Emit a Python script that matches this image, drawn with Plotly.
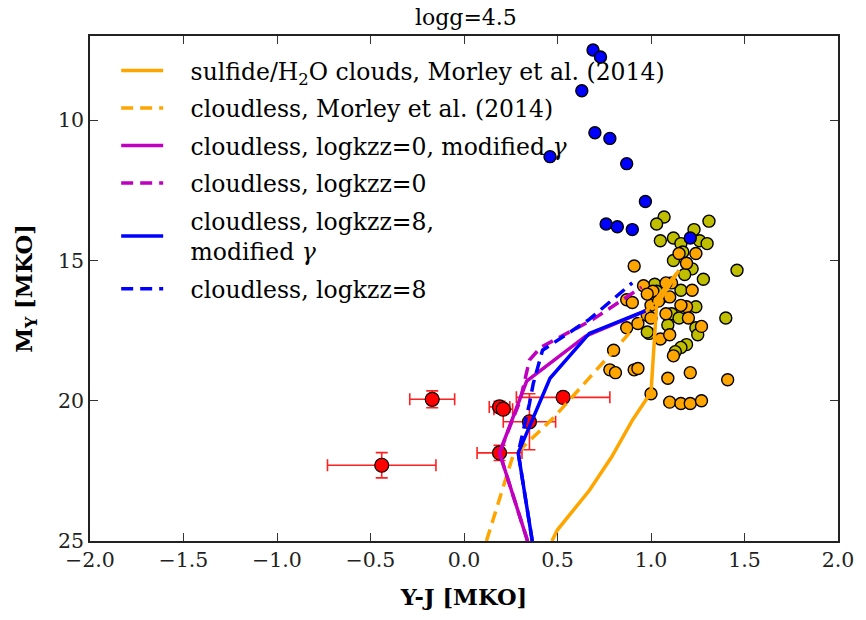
import plotly.graph_objects as go

# --- observed objects (Y-J colour vs absolute Y magnitude) ---
blue_yj = [0.69, 0.73, 0.63, 0.70, 0.78, 0.46, 0.87, 0.97, 0.76, 0.82, 0.90, 1.21]
blue_my = [7.5, 7.75, 8.95, 10.45, 10.65, 11.3, 11.55, 12.9, 13.7, 13.8, 13.9, 14.2]

olive_yj = [1.07, 1.03, 1.31, 1.23, 1.05, 1.12, 1.16, 1.26, 1.30, 1.17, 1.12, 1.22, 1.46,
            1.28, 1.18, 1.02, 1.16, 1.06, 1.24, 1.40, 1.11, 1.15, 1.24, 1.25, 0.99, 1.19,
            1.16, 1.13, 1.09, 0.98, 1.03]
olive_my = [13.45, 13.7, 13.6, 13.9, 14.3, 14.2, 14.4, 14.3, 14.4, 14.7, 15.0, 15.3, 15.35,
            15.67, 15.5, 15.85, 16.06, 16.3, 16.65, 17.05, 16.9, 17.05, 17.4, 17.65, 17.6, 18.0,
            18.1, 18.25, 17.3, 17.55, 16.1]

orange_yj = [0.91, 1.15, 1.24, 1.19, 1.11, 0.96, 1.08, 1.01, 1.10, 1.22, 1.19, 1.16, 1.00,
             0.87, 0.90, 0.98, 1.08, 0.98, 1.20, 1.27, 1.05, 1.10, 0.93, 1.00, 0.87, 1.12,
             0.80, 0.78, 0.81, 0.91, 0.93, 1.09, 1.21, 1.41, 1.00, 1.10, 1.16, 1.21, 1.27, 1.04]
orange_my = [15.2, 14.75, 14.75, 15.1, 15.8, 15.9, 15.8, 16.1, 16.3, 16.06, 16.65, 16.6, 16.6,
             16.4, 16.5, 16.2, 16.9, 16.95, 17.05, 17.35, 17.8, 17.65, 17.25, 17.05, 17.4, 18.4,
             18.2, 18.9, 19.0, 18.9, 18.85, 19.2, 19.0, 19.25, 19.75, 20.05, 20.1, 20.1, 20.0, 16.45]

# objects with measurement uncertainties
red_yj = [-0.17, -0.44, 0.19, 0.21, 0.35, 0.53, 0.19]
red_my = [19.95, 22.3, 20.22, 20.3, 20.75, 19.88, 21.86]
red_yj_err = [0.12, 0.29, 0.055, 0.05, 0.14, 0.25, 0.12]
red_my_err = [0.3, 0.45, 0.2, 0.15, 1.0, 0.15, 0.27]

# --- model tracks ---
morley_cloudy_yj = [0.47, 0.50, 0.67, 0.79, 0.90, 1.00, 1.03, 1.15]
morley_cloudy_my = [25.0, 24.6, 23.2, 22.0, 20.7, 19.7, 16.6, 15.35]

morley_clear_yj = [0.12, 0.26, 0.48, 0.67, 0.87, 1.15]
morley_clear_my = [25.0, 22.0, 20.6, 19.2, 17.7, 15.35]

kzz0_mod_yj = [0.34, 0.19, 0.335, 0.65, 0.97]
kzz0_mod_my = [25.0, 21.86, 19.3, 17.7, 16.8]

kzz0_yj = [0.34, 0.19, 0.30, 0.35, 0.41, 0.69, 0.95]
kzz0_my = [25.0, 21.86, 20.0, 18.55, 18.1, 17.1, 15.95]

kzz8_mod_yj = [0.365, 0.29, 0.46, 0.67, 0.97]
kzz8_mod_my = [25.0, 21.86, 19.2, 17.6, 16.8]

kzz8_yj = [0.365, 0.29, 0.35, 0.37, 0.42, 0.67, 0.90]
kzz8_my = [25.0, 21.86, 20.1, 19.4, 18.2, 17.1, 15.8]

x_ticks = [-2.0, -1.5, -1.0, -0.5, 0.0, 0.5, 1.0, 1.5, 2.0]
y_ticks = [10, 15, 20, 25]

SERIF = "DejaVu Serif"
ORANGE = "#FFA500"
MAGENTA = "#BF00BF"
BLUE = "#0000FF"
OLIVE = "#BFBF00"
DASH = "12px,7px"
PAD = "\u00a0\u00a0\u00a0"  # gap between legend line sample and its label

fig = go.Figure()


def dots(x, y, color, size=12):
    fig.add_trace(go.Scatter(
        x=x, y=y, mode="markers", showlegend=False, hoverinfo="skip",
        marker=dict(size=size, color=color, line=dict(color="black", width=1.4)),
    ))


dots(olive_yj, olive_my, OLIVE)
dots(orange_yj, orange_my, ORANGE)
dots(blue_yj, blue_my, BLUE)

fig.add_trace(go.Scatter(
    x=red_yj, y=red_my, mode="markers", showlegend=False, hoverinfo="skip",
    marker=dict(size=14, color="#FF0000", line=dict(color="black", width=1.2)),
    error_x=dict(type="data", array=red_yj_err, color="#FF2020", thickness=1.6, width=6),
    error_y=dict(type="data", array=red_my_err, color="#FF2020", thickness=1.6, width=6),
))

tracks = [
    (morley_cloudy_yj, morley_cloudy_my, ORANGE, "solid",
     "sulfide/H<sub>2</sub>O clouds, Morley et al. (2014)"),
    (morley_clear_yj, morley_clear_my, ORANGE, DASH, "cloudless, Morley et al. (2014)"),
    (kzz0_mod_yj, kzz0_mod_my, MAGENTA, "solid", "cloudless, logkzz=0, modified <i>γ</i>"),
    (kzz0_yj, kzz0_my, MAGENTA, DASH, "cloudless, logkzz=0"),
    (kzz8_mod_yj, kzz8_mod_my, BLUE, "solid", "cloudless, logkzz=8,<br>" + PAD + "modified <i>γ</i>"),
    (kzz8_yj, kzz8_my, BLUE, DASH, "cloudless, logkzz=8"),
]
for i, (x, y, c, d, name) in enumerate(tracks):
    fig.add_trace(go.Scatter(
        x=x, y=y, mode="lines", name=PAD + name, legendgroup=f"g{i}",
        line=dict(color=c, width=3.5, dash=d), hoverinfo="skip",
    ))

axis_common = dict(
    showgrid=False, zeroline=False, showline=True, linecolor="#222222", linewidth=1.6,
    mirror="ticks", ticks="inside", ticklen=8, tickwidth=1.3, tickcolor="#333333",
    tickfont=dict(family=SERIF, size=20.5, color="#222222"),
)

fig.update_layout(
    width=866, height=620,
    margin=dict(l=90, r=25, t=36, b=79),
    paper_bgcolor="white", plot_bgcolor="white",
    title=dict(text="logg=4.5", x=0.538, xanchor="center", y=1 - 17 / 620, yanchor="middle",
               font=dict(family=SERIF, size=22, color="black")),
    xaxis=dict(range=[-2.0, 2.0], tickvals=x_ticks, tickformat=".1f",
               title=dict(text="<b>Y-J [MKO]</b>", font=dict(family=SERIF, size=22.5, color="black"),
                          standoff=18),
               **axis_common),
    yaxis=dict(range=[25, 7], tickvals=y_ticks,
               title=dict(text="<b>M<sub>Y</sub> [MKO]</b>", font=dict(family=SERIF, size=22.5, color="black"),
                          standoff=19),
               **axis_common),
    legend=dict(x=0.035, y=0.975, xanchor="left", yanchor="top", bgcolor="rgba(0,0,0,0)",
                font=dict(family=SERIF, size=23.5, color="black"), tracegroupgap=4,
                itemwidth=42),
    showlegend=True,
)

fig.write_html("out.html")
